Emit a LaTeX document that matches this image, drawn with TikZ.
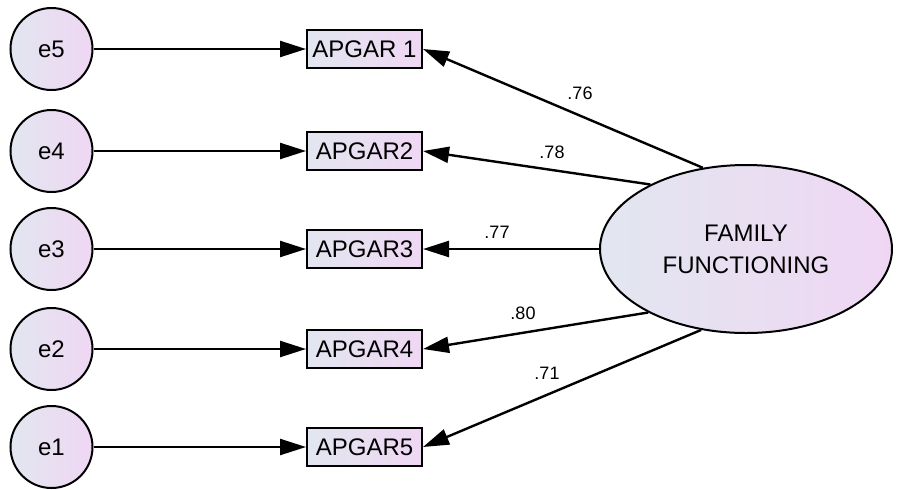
\documentclass[tikz,border=0pt]{standalone}
\usepackage{fontspec}
\setmainfont{Liberation Sans}
\usetikzlibrary{arrows.meta,shapes.geometric}
\definecolor{shadeL}{RGB}{226,230,240}
\definecolor{shadeR}{RGB}{239,215,243}
\tikzset{
  errnode/.style={circle,draw,line width=1pt,minimum size=41pt,inner sep=0pt,
    left color=shadeL,right color=shadeR,font=\fontsize{12}{14}\selectfont},
  obsbox/.style={rectangle,draw,line width=1pt,minimum width=57.5pt,minimum height=19pt,
    inner sep=0pt,left color=shadeL,right color=shadeR,font=\fontsize{12}{14}\selectfont},
  factor/.style={ellipse,draw,line width=1pt,minimum width=146pt,minimum height=84pt,
    inner sep=0pt,left color=shadeL,right color=shadeR,align=center,
    font=\fontsize{12}{16}\selectfont},
  path/.style={line width=1.2pt,-{Triangle[length=13pt,width=8pt]}},
  coef/.style={font=\fontsize{9}{10}\selectfont}
}
\begin{document}
\begin{tikzpicture}[x=0.5pt,y=-0.5pt]
\useasboundingbox (0,0) rectangle (901,489);
% latent factor
\node[factor] (fam) at (746,249) {FAMILY\\FUNCTIONING};
% indicators and their error terms
\foreach \k/\e/\y/\txt in {1/5/49/APGAR 1,2/4/151/APGAR2,3/3/249/APGAR3,4/2/349/APGAR4,5/1/447/APGAR5} {
  \node[obsbox] (a\k) at (364.5,\y) {\txt};
  \node[errnode] (e\e) at (51.5,\y) {e\e};
  \draw[path] (e\e) -- (a\k);
}
% loadings
\draw[path] (fam.118) -- (a1.east);
\draw[path] (fam.146) -- (a2.east);
\draw[path] (fam.180) -- (a3.east);
\draw[path] (fam.213) -- (a4.east);
\draw[path] (fam.241) -- (a5.east);
\node[coef] (l1) at (580,93) {.76};
\node[coef] (l2) at (552,152) {.78};
\node[coef] (l3) at (497,232) {.77};
\node[coef] (l4) at (523,313) {.80};
\node[coef] (l5) at (547,373) {.71};
\end{tikzpicture}
\end{document}
